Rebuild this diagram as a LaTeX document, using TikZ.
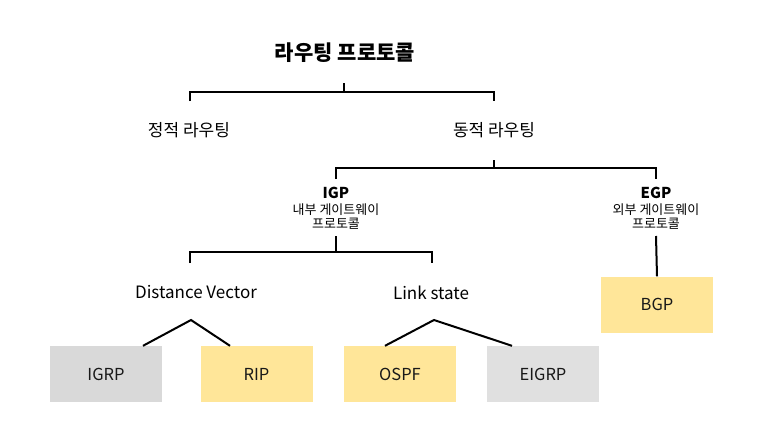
\documentclass[tikz,border=0pt]{standalone}
\usepackage{fontspec}
\setmainfont{Noto Sans CJK KR}
\begin{document}
\begin{tikzpicture}[x=1pt,y=-1pt,
  conn/.style={line width=2pt,black},
  lbl/.style={inner sep=0pt,font=\fontsize{17}{19}\selectfont,text=black},
  sub/.style={inner sep=0pt,font=\fontsize{13}{15}\selectfont,text=black},
  hdr/.style={inner sep=0pt,font=\fontsize{15}{17}\selectfont\bfseries,text=black},
  box/.style={minimum width=112pt,minimum height=56pt,inner sep=0pt,draw=none,text=black!90,font=\fontsize{16.5}{18}\selectfont},
  ybox/.style={box,fill=yellowc},
  gbox/.style={box,fill=grayc},
  g2box/.style={box,fill=grayd}]
\definecolor{yellowc}{HTML}{FFE699}
\definecolor{grayc}{HTML}{D9D9D9}
\definecolor{grayd}{HTML}{E0E0E0}
\useasboundingbox (0,0) rectangle (763,429);
\fill[white] (0,0) rectangle (763,429);

% texts
\node[inner sep=0pt,font=\fontsize{21}{23}\selectfont\bfseries] (root) at (345,53) {라우팅 프로토콜};
\node[lbl] (static) at (189,130) {정적 라우팅};
\node[lbl] (dynamic) at (494,130) {동적 라우팅};
\node[hdr] (igp) at (336,193) {IGP};
\node[sub] (igps) at (336,210) {내부 게이트웨이};
\node[sub] (igps2) at (336,224) {프로토콜};
\node[hdr] (egp) at (656,193) {EGP};
\node[sub] (egps) at (656,210) {외부 게이트웨이};
\node[sub] (egps2) at (656,224) {프로토콜};
\node[lbl] (dv) at (196,292) {Distance Vector};
\node[lbl] (ls) at (431,293) {Link state};

% boxes
\node[gbox] (igrp) at (106,374) {IGRP};
\node[ybox] (rip) at (256.5,374) {RIP};
\node[ybox] (ospf) at (400,374) {OSPF};
\node[g2box] (eigrp) at (543,374) {EIGRP};
\node[ybox] (bgp) at (657,304.5) {BGP};

% bracket coordinates
\coordinate (r0) at (344,83);
\coordinate (r1) at (344,92);
\coordinate (s0) at (190,101);
\coordinate (d0) at (494,101);
\coordinate (d1) at (494,160);
\coordinate (d2) at (494,168);
\coordinate (i0) at (336,179);
\coordinate (e0) at (656,179);
\coordinate (i1) at (336,236);
\coordinate (i2) at (336,252);
\coordinate (v0) at (190,263);
\coordinate (l0) at (432,263);
\coordinate (e1) at (656,236);
\coordinate (dva) at (191,320);
\coordinate (lsa) at (434,320);

% connectors
\draw[conn] (r0) -- (r1);
\draw[conn] (s0) |- (r1) -| (d0);
\draw[conn] (d1) -- (d2);
\draw[conn] (i0) |- (d2) -| (e0);
\draw[conn] (i1) -- (i2);
\draw[conn] (v0) |- (i2) -| (l0);
\draw[conn] (e1) -- (bgp.north);
\draw[conn] (igrp.north -| 143,0) -- (dva) -- (rip.north -| 230,0);
\draw[conn] (ospf.north -| 385,0) -- (lsa) -- (eigrp.north -| 512,0);
\end{tikzpicture}
\end{document}
